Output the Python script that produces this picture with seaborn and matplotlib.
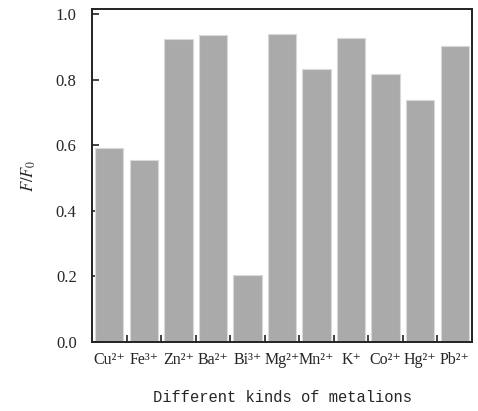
import matplotlib
matplotlib.use('Agg')
import matplotlib.pyplot as plt
import seaborn as sns
import numpy as np
import pandas as pd
from matplotlib.ticker import FixedLocator, FormatStrFormatter

# metal ions and relative fluorescence F/F0
ions = ['Cu²⁺', 'Fe³⁺', 'Zn²⁺', 'Ba²⁺', 'Bi³⁺', 'Mg²⁺',
        'Mn²⁺', 'K⁺', 'Co²⁺', 'Hg²⁺', 'Pb²⁺']
ratio = [0.591, 0.555, 0.924, 0.935, 0.205, 0.940, 0.832, 0.928, 0.817, 0.737, 0.902]
y_ticks = [0.0, 0.2, 0.4, 0.6, 0.8, 1.0]

sns.set_style('white')
plt.rcParams['font.family'] = ['Liberation Serif', 'DejaVu Serif']
plt.rcParams['mathtext.fontset'] = 'stix'

df = pd.DataFrame({'ion': ions, 'ratio': ratio})

fig = plt.figure(figsize=(4.78, 4.11), dpi=100)
ax = fig.add_axes([0.1925, 0.168, 0.795, 0.810])

sns.barplot(data=df, x='ion', y='ratio', color='#aaaaaa', saturation=1,
            width=0.82, edgecolor='#d9d9d9', linewidth=0.8, ax=ax)

ax.set_xlim(-0.5, len(ions) - 0.5)
ax.set_ylim(0, 1.015)
ax.set_yticks(y_ticks)
ax.yaxis.set_major_formatter(FormatStrFormatter('%.1f'))

# ticks between categories, pointing inward
ax.xaxis.set_minor_locator(FixedLocator(np.arange(0.5, len(ions) - 1, 1.0)))
ax.tick_params(axis='x', which='major', bottom=True, length=0, pad=7, labelsize=11.5)
ax.tick_params(axis='x', which='minor', bottom=True, direction='in', length=5,
               width=1.2, color='#222222')
ax.tick_params(axis='y', direction='in', length=5, width=1.2, color='#222222',
               labelsize=12, pad=11, left=True)

for s in ax.spines.values():
    s.set_linewidth(1.4)
    s.set_color('#222222')
    s.set_visible(True)

ax.set_xlabel('Different kinds of metalions', family='Liberation Mono', fontsize=11.2,
              labelpad=16)
ax.set_ylabel('$F/F_0$', fontsize=12, labelpad=13)

fig.savefig('out.png', dpi=100, facecolor='white')
